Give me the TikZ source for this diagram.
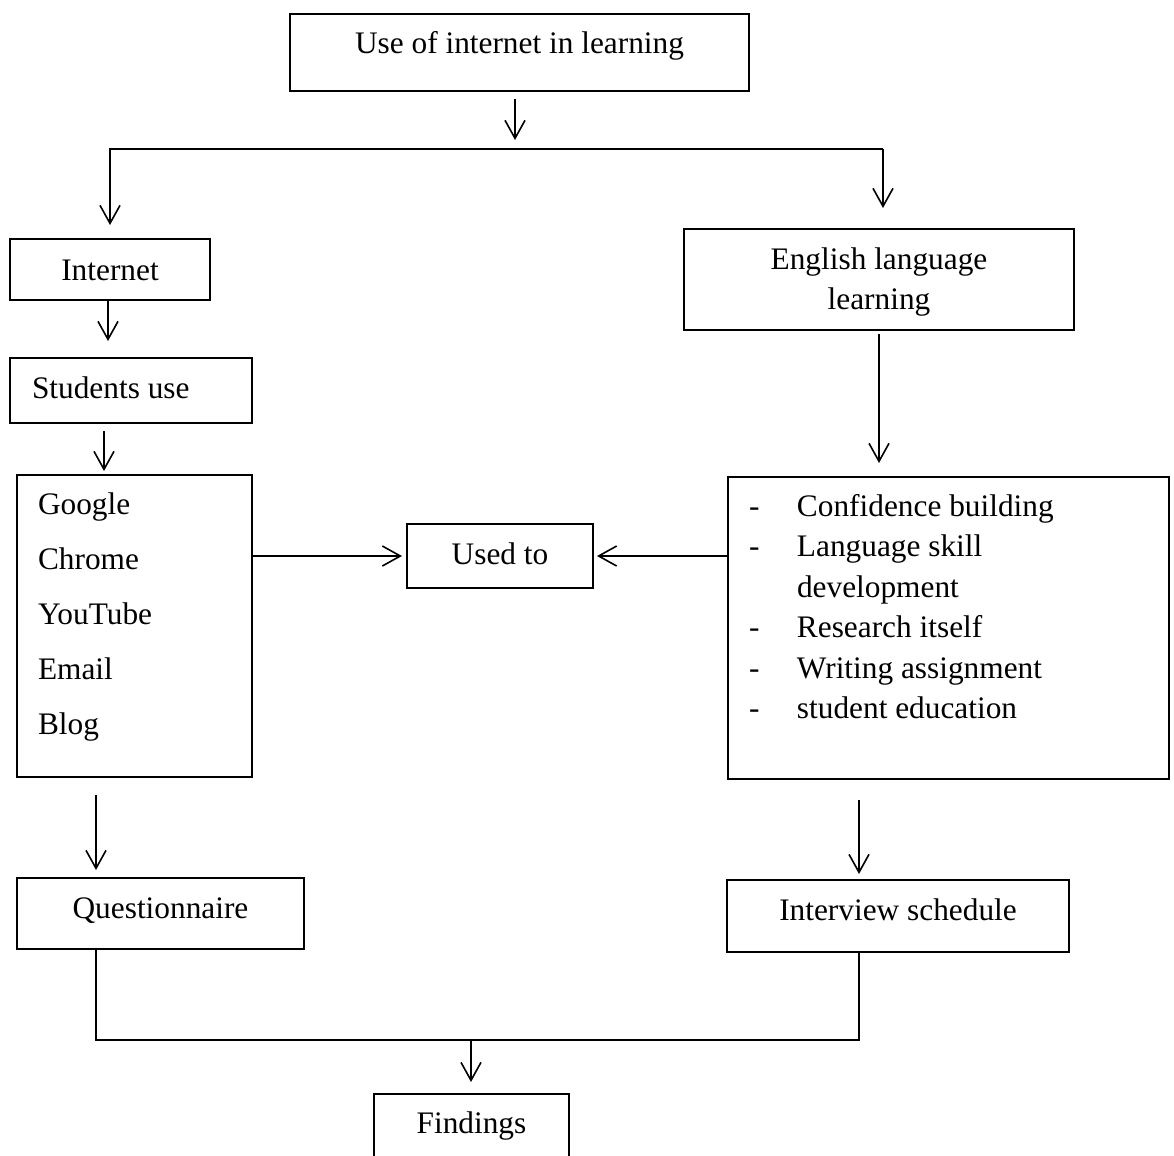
\documentclass[tikz,border=0pt]{standalone}
\usepackage{fontspec}
\setmainfont{Liberation Serif}
\usetikzlibrary{arrows.meta}

\tikzset{every picture/.style={line width=1.2pt}}
\tikzset{
	box/.style={draw, line width=1.5pt, inner xsep=0pt, inner ysep=0pt, anchor=north west, font=\fontsize{23.5}{30}\selectfont},
	arr/.style={-{Straight Barb[length=13.5pt,width=15pt]}},
}

\begin{document}
\begin{tikzpicture}[x=0.75pt,y=0.75pt,yscale=-1,xscale=1]
	\clip (0,0) rectangle (1174,1156);
	
	% Boxes
	\node [box, minimum width=344.25pt, text height=30pt, text depth=27.75pt] (top) at (289,13) {Use of internet in learning};
	\node [box, minimum width=150pt, text height=30.75pt, text depth=15pt] (internet) at (9,238) {Internet};
	\node [box, text width=148.5pt, inner xsep=16.5pt, align=flush left, text height=30pt, text depth=18.75pt] (students) at (9,357) {Students use};
	\node [box, text width=144.75pt, inner xsep=15.75pt, align=flush left, text height=29.25pt, text depth=197.25pt, font=\fontsize{23.5}{41.25}\selectfont] (tools) at (16,474) {Google\\Chrome\\YouTube\\Email\\Blog};
	\node [box, minimum width=139.5pt, text height=30pt, text depth=18pt] (usedto) at (406,523) {Used to};
	\node [box, text width=292.5pt, align=flush center, text height=30pt, text depth=45.75pt] (english) at (683,228) {English language\\learning};
	\node [box, text width=299.25pt, inner xsep=15.75pt, align=flush left, text height=29.25pt, text depth=197.25pt, font=\fontsize{23.5}{30.4}\selectfont] (aims) at (727,476) {\makebox[36pt][l]{-}Confidence building\\
		\makebox[36pt][l]{-}Language skill\\
		\hspace*{36pt}development\\
		\makebox[36pt][l]{-}Research itself\\
		\makebox[36pt][l]{-}Writing assignment\\
		\makebox[36pt][l]{-}student education};
	\node [box, minimum width=215.25pt, text height=30pt, text depth=23.25pt] (quest) at (16,877) {Questionnaire};
	\node [box, minimum width=256.5pt, text height=30pt, text depth=24pt] (interview) at (726,879) {Interview schedule};
	\node [box, minimum width=146.25pt, text height=29.25pt, text depth=36pt] (findings) at (373,1093) {Findings};
	
	% Rails
	\coordinate (split) at (515,149);
	\coordinate (splitL) at (110,149);
	\coordinate (splitR) at (883,149);
	\coordinate (railL) at (96,1040);
	\coordinate (railR) at (859,1040);
	\coordinate (merge) at (471,1040);
	
	% Connectors
	\draw [arr, shorten <=5.25pt, shorten >=6.75pt] (top.south -| split) -- (split);
	\draw [arr, shorten >=9.75pt] (splitR) -- (splitL) -- (splitL |- internet.north);
	\draw [arr, shorten >=15pt] (splitR) -- (splitR |- english.north);
	\draw [arr, shorten >=12pt] ([xshift=-1.5pt]internet.south) -- ([xshift=-1.5pt]internet.south |- students.north);
	\draw [arr, shorten <=5.25pt, shorten >=2.25pt] ([xshift=-20.25pt]students.south) -- ([xshift=-20.25pt]students.south |- tools.north);
	\draw [arr, shorten >=3pt] (tools.east |- usedto.west) -- (usedto.west);
	\draw [arr, shorten >=2.25pt] (aims.west |- usedto.east) -- (usedto.east);
	\draw [arr, shorten <=2.25pt, shorten >=9.75pt] (english.south) -- (english.south |- aims.north);
	\draw [arr, shorten <=12.75pt, shorten >=5.25pt] (tools.south -| railL) -- (quest.north -| railL);
	\draw [arr, shorten <=15pt, shorten >=3.75pt] (aims.south -| railR) -- (interview.north -| railR);
	\draw (quest.south -| railL) -- (railL) -- (railR) -- (interview.south -| railR);
	\draw [arr, shorten >=8.25pt] (merge) -- (merge |- findings.north);
	
\end{tikzpicture}
\end{document}
